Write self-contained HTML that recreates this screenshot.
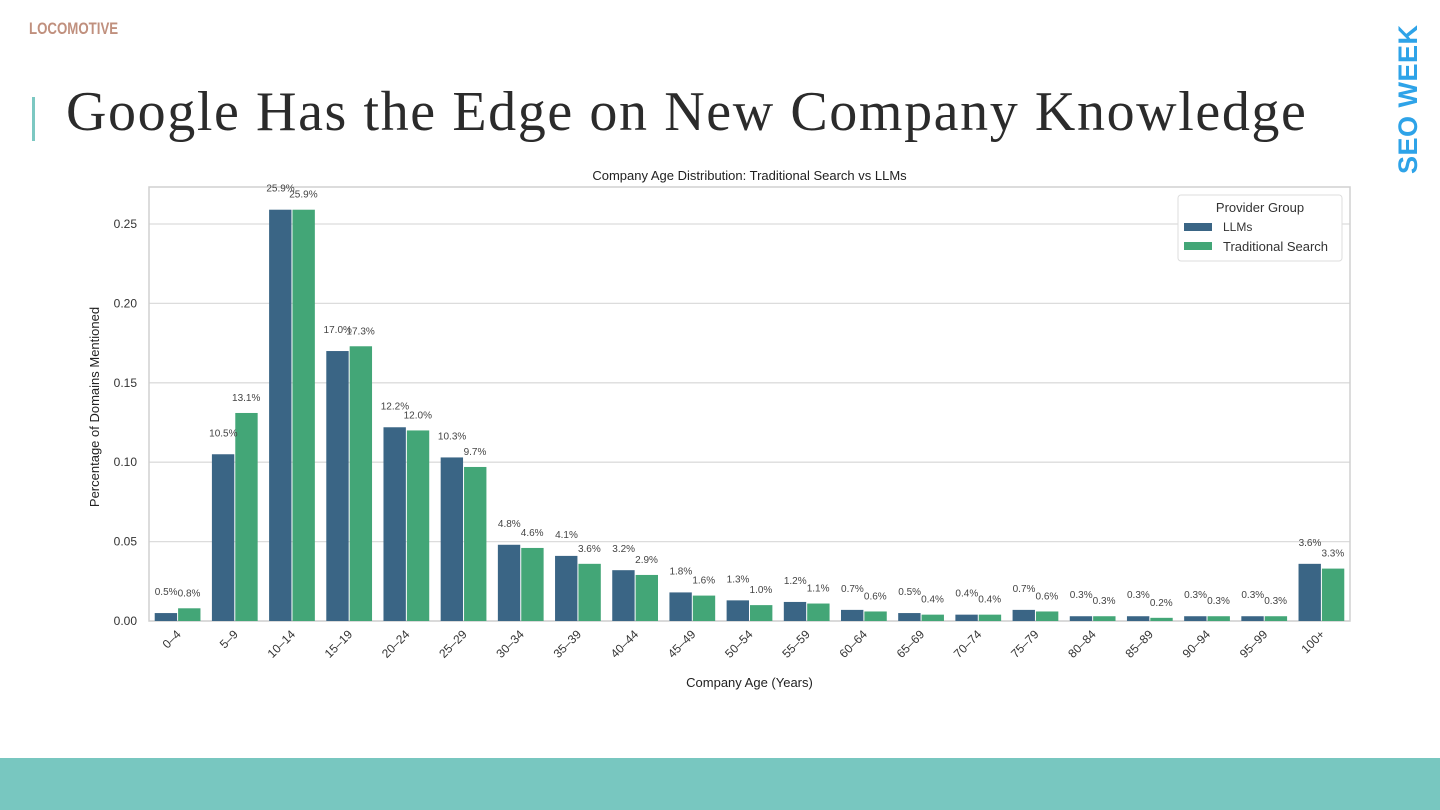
<!DOCTYPE html>
<html><head><meta charset="utf-8"><style>
body{margin:0;width:1440px;height:810px;background:#fff;position:relative;overflow:hidden;font-family:"Liberation Sans",sans-serif}
.logo{position:absolute;left:29px;top:19px;font:bold 17px "Liberation Sans",sans-serif;color:#c0907e;transform:scaleX(0.78);transform-origin:left}
.bar{position:absolute;left:32px;top:97px;width:3px;height:44px;background:#7cc8c2}
h1{position:absolute;left:66px;top:80px;margin:0;font:400 56px "Liberation Serif",serif;color:#2b2b2b;white-space:nowrap;letter-spacing:1.6px}
.seo{position:absolute;left:1393px;top:174px;transform:rotate(-90deg);transform-origin:left top;font:900 27px "Liberation Sans",sans-serif;color:#2ea3e8;white-space:nowrap;letter-spacing:0.5px}
.foot{position:absolute;left:0;top:758px;width:1440px;height:52px;background:#78c7c0}
</style></head><body>
<div class="logo">LOCOMOTIVE</div>
<div class="bar"></div>
<h1>Google Has the Edge on New Company Knowledge</h1>
<div class="seo">SEO WEEK</div>
<svg id="chart" width="1440" height="810" style="position:absolute;left:0;top:0"></svg>
<div class="foot"></div>
<script>
const categories=["0–4","5–9","10–14","15–19","20–24","25–29","30–34","35–39","40–44","45–49","50–54","55–59","60–64","65–69","70–74","75–79","80–84","85–89","90–94","95–99","100+"];
const llms=[0.005,0.105,0.259,0.170,0.122,0.103,0.048,0.041,0.032,0.018,0.013,0.012,0.007,0.005,0.004,0.007,0.003,0.003,0.003,0.003,0.036];
const trad=[0.008,0.131,0.259,0.173,0.120,0.097,0.046,0.036,0.029,0.016,0.010,0.011,0.006,0.004,0.004,0.006,0.003,0.002,0.003,0.003,0.033];
const yTicks=[0,0.05,0.10,0.15,0.20,0.25];
const yTickLabels=["0.00","0.05","0.10","0.15","0.20","0.25"];
const NS="http://www.w3.org/2000/svg";
const svg=document.getElementById('chart');
const L=149,R=1350,T=187,B=621;
const y=v=>B-v*(B-224)/0.25;
const step=(R-L)/categories.length;
const xc=i=>L+step*(i+0.5);
function el(tag,attrs,txt){const e=document.createElementNS(NS,tag);for(const k in attrs)e.setAttribute(k,attrs[k]);if(txt!==undefined)e.textContent=txt;svg.appendChild(e);return e;}
yTicks.forEach((t,i)=>{
 const g=el('line',{x1:L,x2:R,y1:y(t),y2:y(t),stroke:'#dcdcdc','stroke-width':1.3});
 
 
 const tx=el('text',{x:L-12,y:y(t)+4,'text-anchor':'end','font-size':12,fill:'#333'},yTickLabels[i]);
 
 
});
const frame=el('rect',{x:L,y:T,width:R-L,height:B-T,fill:'none',stroke:'#d0d0d0','stroke-width':1.5});


const bw=step*0.4;
categories.forEach((c,i)=>{
 const a=el('rect',{x:xc(i)-bw,y:y(llms[i]),width:bw-0.5,height:B-y(llms[i]),fill:'#3a6585'});
 
 
 const b=el('rect',{x:xc(i)+0.5,y:y(trad[i]),width:bw-0.5,height:B-y(trad[i]),fill:'#43a677'});
 
 
 const la=el('text',{x:xc(i)-bw/2,y:y(llms[i])-18,'text-anchor':'middle','font-size':10,fill:'#444'},(llms[i]*100).toFixed(1)+'%');
 
 
 const lb=el('text',{x:xc(i)+bw/2,y:y(trad[i])-12,'text-anchor':'middle','font-size':10,fill:'#444'},(trad[i]*100).toFixed(1)+'%');
 
 
 const t=el('text',{x:xc(i)+4,y:B+14,'text-anchor':'end','font-size':12,fill:'#333',transform:`rotate(-45 ${xc(i)+4} ${B+14})`},c);
 
 
});
const tt=el('text',{x:(L+R)/2,y:180,'text-anchor':'middle','font-size':13,fill:'#222'},'Company Age Distribution: Traditional Search vs LLMs');


const xt=el('text',{x:(L+R)/2,y:687,'text-anchor':'middle','font-size':13,fill:'#222'},'Company Age (Years)');


const yt=el('text',{x:99,y:(T+B)/2+3,'text-anchor':'middle','font-size':13,fill:'#222',transform:`rotate(-90 99 ${(T+B)/2+3})`},'Percentage of Domains Mentioned');


const lg=el('rect',{x:1178,y:195,width:164,height:66,rx:3,fill:'#fff',stroke:'#ddd'});


const lt=el('text',{x:1260,y:212,'text-anchor':'middle','font-size':13,fill:'#333'},'Provider Group');


const s1=el('rect',{x:1184,y:223,width:28,height:8,fill:'#3a6585'});


const t1=el('text',{x:1223,y:231,'font-size':12,fill:'#333'},'LLMs');


const s2=el('rect',{x:1184,y:242,width:28,height:8,fill:'#43a677'});


const t2=el('text',{x:1223,y:251,'font-size':13,fill:'#333'},'Traditional Search');


</script>
</body></html>
